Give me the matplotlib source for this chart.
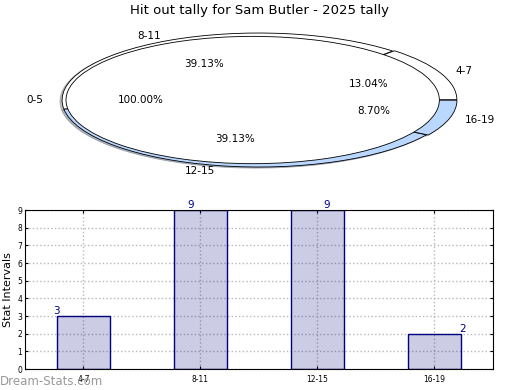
import matplotlib
matplotlib.use("Agg")
from matplotlib import pyplot as plt

# Tally data
categories = ["4-7", "8-11", "12-15", "16-19"]
counts = [3, 9, 9, 2]
slice_colors = ["white", "white", "#b9d7ff", "#b9d7ff"]
base_label = ["0-5"]
base_value = [1]

fig = plt.figure(figsize=(5.2, 3.9), dpi=100)
fig.text(0.5, 0.99, "Hit out tally for Sam Butler - 2025 tally",
         ha="center", va="top", fontsize=9.5)

# Elliptical pie chart
shadow = {"ox": -0.008, "oy": -0.012, "shade": 0.5}
ax1 = fig.add_axes([0.006, 0.5374, 0.9825, 0.4123])
ax1.pie(counts, labels=categories, colors=slice_colors, autopct="%.2f%%",
        explode=[0.01, 0, 0, 0.01], shadow=shadow, labeldistance=1.08,
        wedgeprops={"edgecolor": "black", "linewidth": 0.6},
        textprops={"fontsize": 7.5})
ax1.pie(base_value, labels=base_label, colors=["white"], autopct="%.2f%%",
        explode=[0.03], radius=0.95, shadow=shadow,
        wedgeprops={"edgecolor": "black", "linewidth": 0.6},
        textprops={"fontsize": 7.5}, labeldistance=1.12, pctdistance=0.6)
ax1.set_aspect("auto")
ax1.set_xlim(-1.3, 1.3)
ax1.set_ylim(-1.2, 1.2)

# Bar chart
ax2 = fig.add_axes([0.048, 0.0538, 0.9, 0.4077])
x = range(len(categories))
ax2.bar(x, counts, width=0.45, color="navy", alpha=0.2)
ax2.bar(x, counts, width=0.45, fill=False, edgecolor="navy", linewidth=1)
label_shift = [-0.23, -0.08, 0.08, 0.24]
for i, v in enumerate(counts):
    ax2.text(i + label_shift[i], v, str(v), color="navy", fontsize=7.5,
             ha="center", va="bottom")
ax2.set_xlim(-0.5, 3.5)
ax2.set_ylim(0, 9)
ax2.set_yticks(range(10))
ax2.set_xticks(list(x))
ax2.set_xticklabels(categories)
ax2.tick_params(axis="both", labelsize=5.5, direction="in", length=2,
                right=True, top=True, pad=2)
ax2.tick_params(axis="x", pad=4)
ax2.grid(True, linestyle=":", color="#b8b8b8", linewidth=1)
ax2.set_axisbelow(True)
ax2.set_ylabel("Stat Intervals", fontsize=8, labelpad=3)

fig.text(0.0, 0.005, "Dream-Stats.com", color="#999999", fontsize=8.5,
         ha="left", va="bottom")

plt.savefig("out.png")
